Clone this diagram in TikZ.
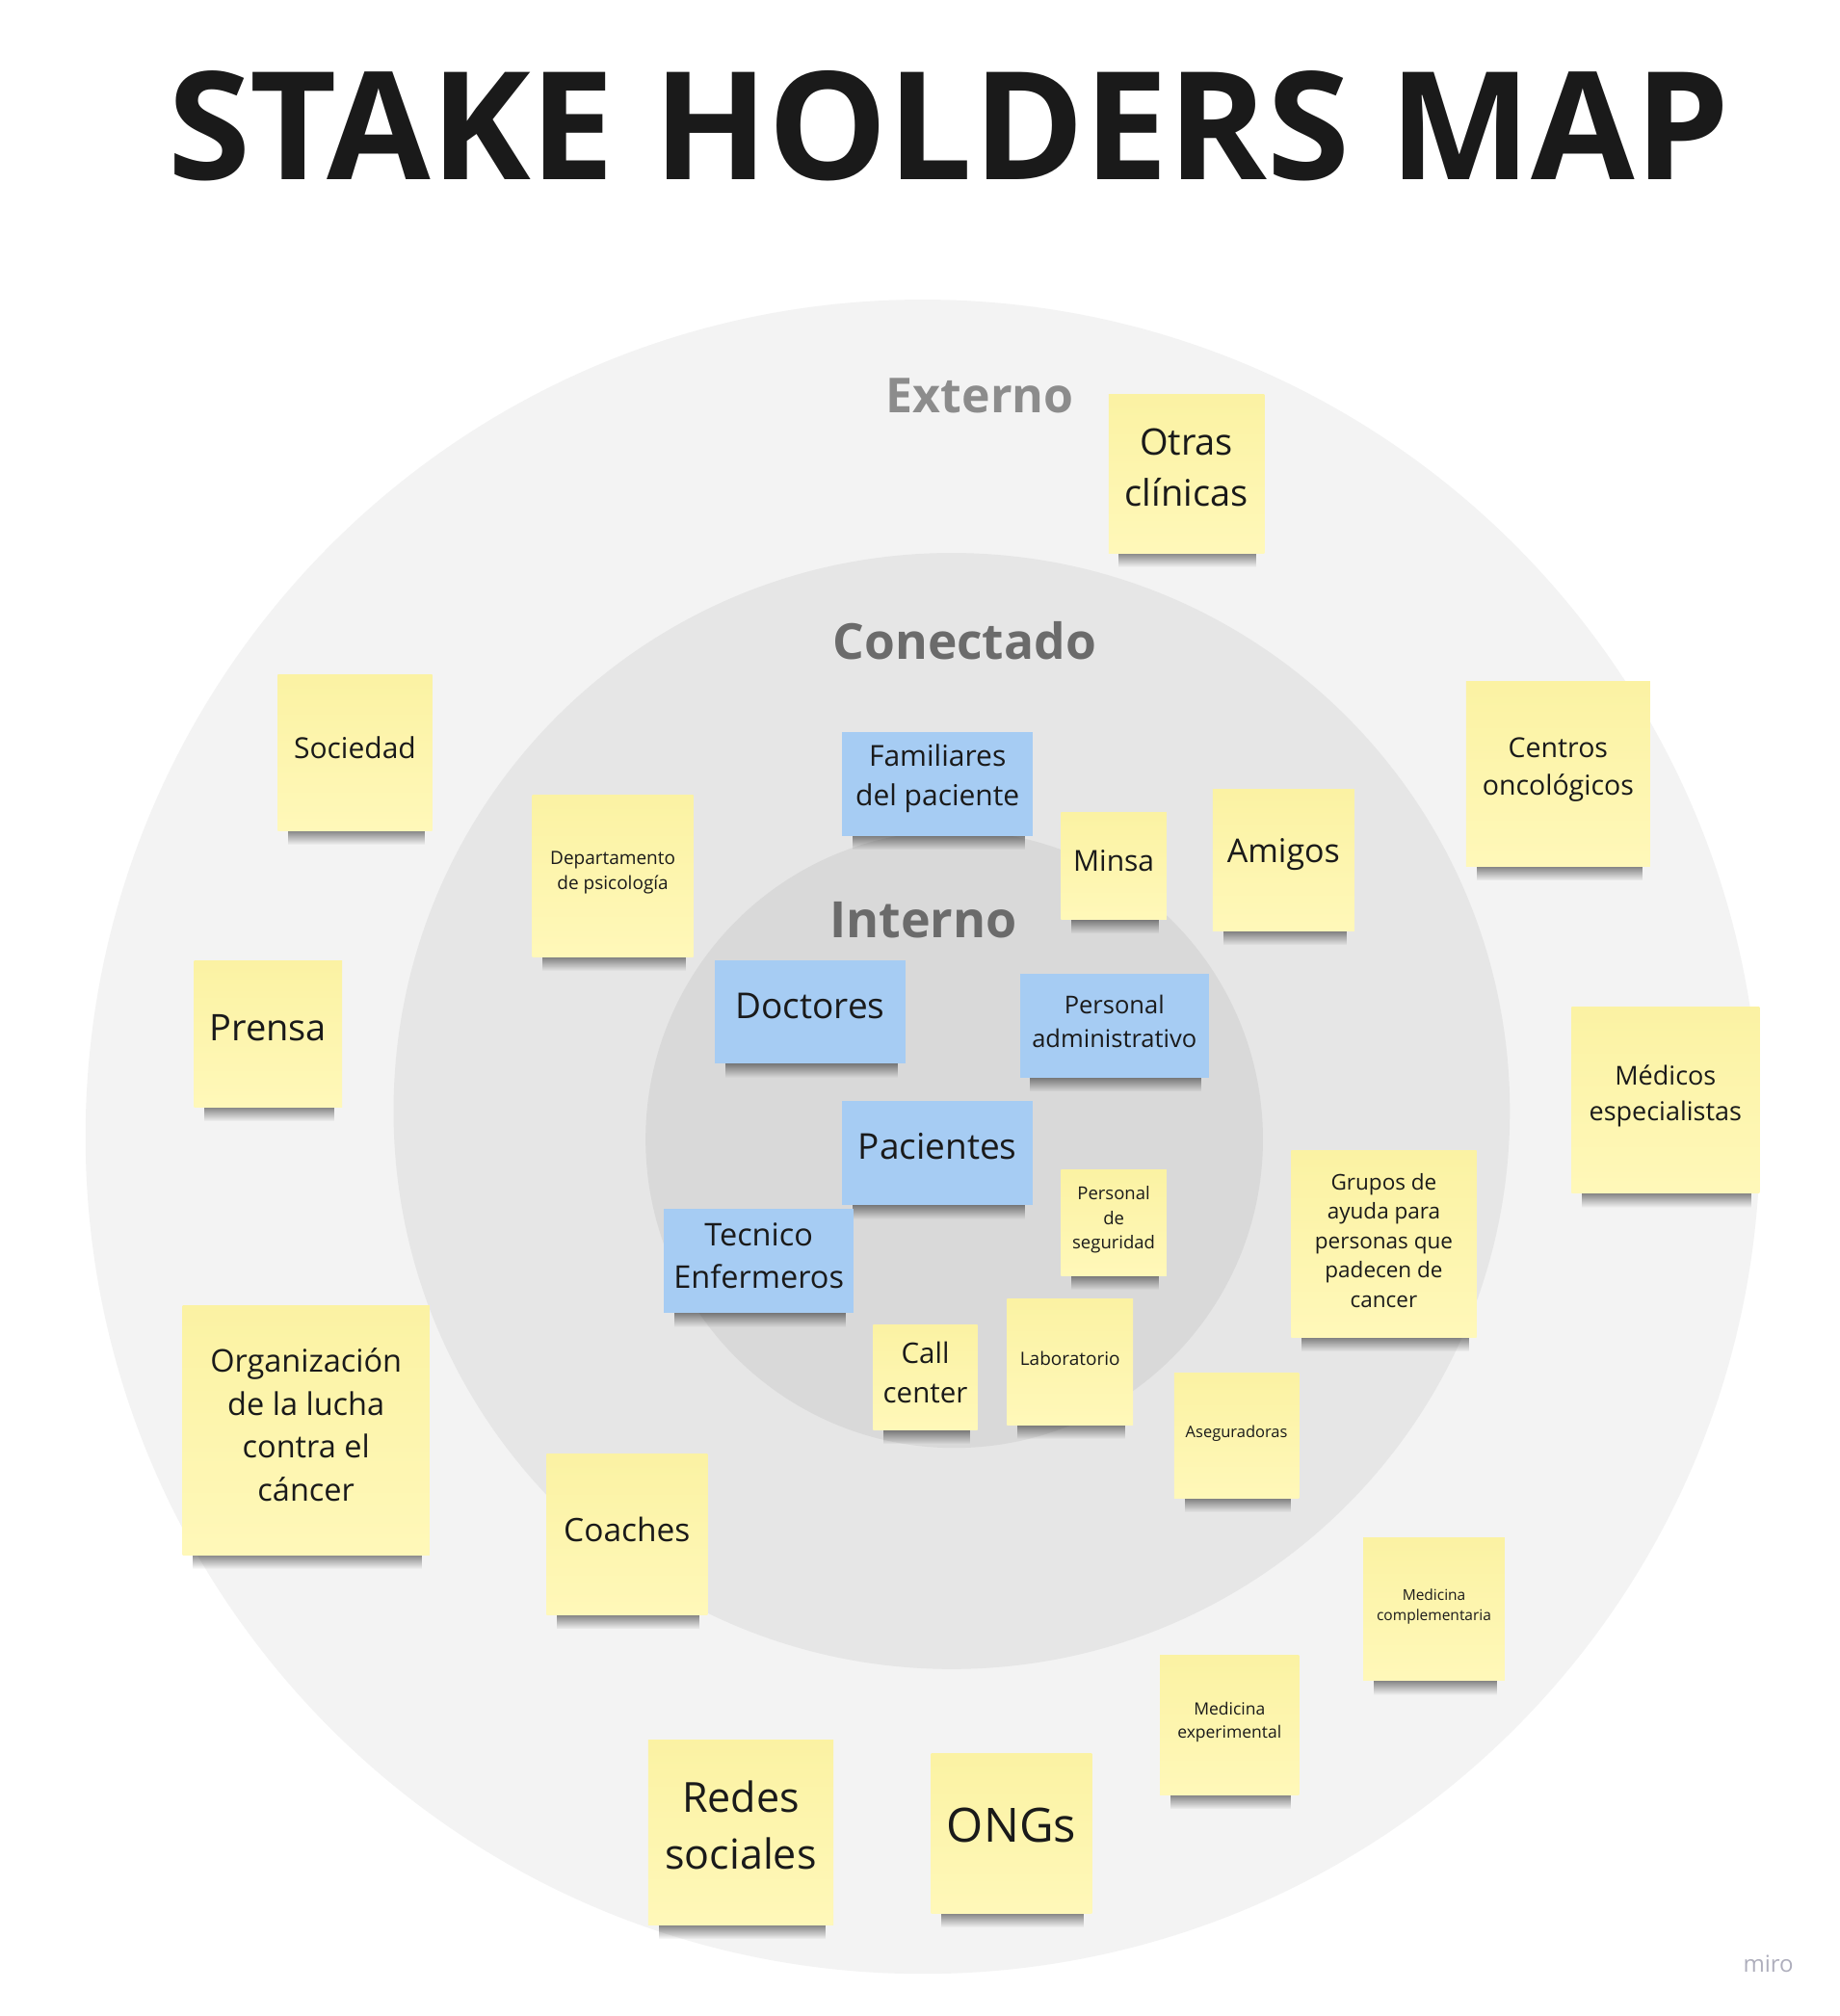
\documentclass[tikz,border=0pt]{standalone}
\usepackage{fontspec}
\setmainfont{Open Sans}
\usetikzlibrary{fadings}
\definecolor{ringA}{HTML}{F3F3F3}
\definecolor{ringB}{HTML}{E6E6E6}
\definecolor{ringC}{HTML}{D9D9D9}
\definecolor{noteTop}{HTML}{FBF2A3}
\definecolor{noteBot}{HTML}{FFF8B9}
\definecolor{blueNote}{HTML}{A6CCF3}
\definecolor{inkDark}{HTML}{1A1A1A}
\definecolor{labelGray}{HTML}{6B6B6B}
\definecolor{labelLight}{HTML}{8C8C8C}
\definecolor{miroGray}{HTML}{AEAEBC}
\newcommand\stk[9]{%
  \fill[black,opacity=.45,path fading=south] (#2+8,#5) rectangle (#4-6,#5+11);
  \node[#8, minimum width={(#4-#2)*1.335pt}, minimum height={(#5-#3)*1.335pt}]
    (#1) at ({(#2+#4)/2},{(#3+#5)/2}) {};%
  \node[notetext, font=\fontsize{#6}{#9}\selectfont, yshift={#6*0.17pt}]
    (#1-text) at (#1.center) {#7};%
}
\tikzset{
  yellownote/.style={inner sep=0pt, top color=noteTop, bottom color=noteBot},
  bluenote/.style={inner sep=0pt, fill=blueNote},
  notetext/.style={inner sep=0pt, align=center, text=inkDark},
  ringlabel/.style={anchor=base, inner sep=0pt}
}
\begin{document}
\begin{tikzpicture}[x=1.335pt,y=-1.335pt]
\useasboundingbox[fill=white] (0,0) rectangle (1430.7,1567.8);
% rings
\fill[ringA] (717.5,884) circle (651);
\fill[ringB] (740,864) circle (434);
\fill[ringC] (742,886) circle (240);
% title
\node[anchor=base, inner sep=0pt, text=inkDark, font=\bfseries\fontsize{156}{156}\selectfont] (title) at (737.5,140) {STAKE HOLDERS MAP};
% ring labels
\node[ringlabel, text=labelLight, font=\bfseries\fontsize{50}{51}\selectfont] (externo) at (762,321) {Externo};
\node[ringlabel, text=labelGray, font=\bfseries\fontsize{51.5}{53}\selectfont] (conectado) at (750,513) {Conectado};
\node[ringlabel, text=labelGray, font=\bfseries\fontsize{52}{54}\selectfont] (interno) at (718,729) {Interno};
% notes
\stk{otras}{862}{307}{983}{430}{38}{Otras\\clínicas}{yellownote}{53}
\stk{sociedad}{216}{525}{336}{646}{30}{Sociedad}{yellownote}{41}
\stk{psico}{414}{618}{539}{744}{19}{Departamento\\de psicología}{yellownote}{26}
\stk{familiares}{655}{569}{803}{650}{30}{Familiares\\del paciente}{bluenote}{41}
\stk{minsa}{825}{632}{907}{715}{30}{Minsa}{yellownote}{41}
\stk{amigos}{943}{614}{1053}{724}{34}{Amigos}{yellownote}{46}
\stk{centros}{1140}{530}{1283}{674}{28.5}{Centros\\oncológicos}{yellownote}{39}
\stk{doctores}{556}{747}{704}{827}{37}{Doctores}{bluenote}{50}
\stk{personaladm}{793}{757}{940}{838}{25.5}{Personal\\administrativo}{bluenote}{35}
\stk{prensa}{151}{747}{266}{861}{38}{Prensa}{yellownote}{52}
\stk{medicos}{1222}{783}{1368}{928}{27}{Médicos\\especialistas}{yellownote}{37}
\stk{pacientes}{655}{856}{803}{937}{37}{Pacientes}{bluenote}{50}
\stk{seguridad}{825}{910}{907}{992}{18.5}{Personal\\de\\seguridad}{yellownote}{25.5}
\stk{grupos}{1004}{895}{1148}{1040}{22.5}{Grupos de\\ayuda para\\personas que\\padecen de\\cancer}{yellownote}{30.5}
\stk{tecnico}{516}{940}{664}{1021}{32.5}{Tecnico\\Enfermeros}{bluenote}{44}
\stk{organizacion}{142}{1015}{334}{1209}{32.5}{Organización\\de la lucha\\contra el\\cáncer}{yellownote}{44.5}
\stk{callcenter}{679}{1030}{760}{1112}{29.5}{Call\\center}{yellownote}{41}
\stk{laboratorio}{783}{1010}{881}{1108}{19}{Laboratorio}{yellownote}{26}
\stk{aseguradoras}{913}{1068}{1010}{1165}{16.5}{Aseguradoras}{yellownote}{22.5}
\stk{coaches}{425}{1131}{550}{1256}{33.5}{Coaches}{yellownote}{46}
\stk{medcomp}{1060}{1196}{1170}{1307}{15.5}{Medicina\\complementaria}{yellownote}{21}
\stk{medexp}{902}{1287}{1010}{1396}{17.5}{Medicina\\experimental}{yellownote}{24}
\stk{redes}{504}{1353}{648}{1497}{43}{Redes\\sociales}{yellownote}{59}
\stk{ongs}{724}{1364}{849}{1488}{49}{ONGs}{yellownote}{66}
% watermark
\node[anchor=base, inner sep=0pt, text=miroGray, font=\fontsize{24}{24}\selectfont] (miro) at (1375,1534) {miro};
\end{tikzpicture}
\end{document}
